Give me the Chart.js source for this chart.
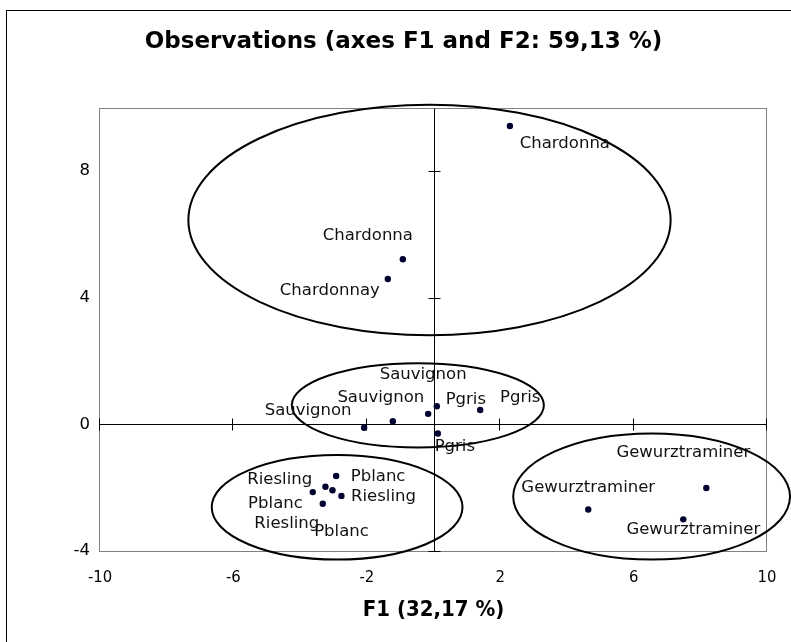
<!DOCTYPE html>
<html>
<head>
<meta charset="utf-8">
<script src="https://cdn.jsdelivr.net/npm/chart.js@4.4.1/dist/chart.umd.min.js"></script>
<style>
  html, body { margin: 0; padding: 0; background: #fff; }
  canvas { display: block; }
</style>
</head>
<body>
<canvas id="chart" width="791" height="642"></canvas>
<script>
// Observations on the first two factors
const names = [
  'Chardonna', 'Chardonnay', 'Chardonna',
  'Sauvignon', 'Sauvignon', 'Sauvignon',
  'Pgris', 'Pgris', 'Pgris',
  'Pblanc', 'Riesling', 'Riesling', 'Pblanc', 'Riesling', 'Pblanc',
  'Gewurztraminer', 'Gewurztraminer', 'Gewurztraminer'
];
const f1 = [
  -0.92, -1.37, 2.29,
  -2.08, -1.22, -0.16,
  0.10, 1.40, 0.13,
  -2.92, -2.76, -3.62, -3.24, -3.32, -3.03,
  8.18, 4.64, 7.49
];
const f2 = [
  5.21, 4.59, 9.42,
  -0.11, 0.10, 0.33,
  0.57, 0.45, -0.29,
  -1.63, -2.26, -2.14, -1.97, -2.51, -2.08,
  -2.01, -2.69, -3.00
];

// Tick values
const xTicks = [-10, -6, -2, 2, 6, 10];
const yTicks = [-4, 0, 4, 8];

// Group ellipses (centre and half-axes in factor units)
const ellipseCx = [-0.12, -0.47, -2.89, 6.54];
const ellipseCy = [6.45, 0.60, -2.62, -2.28];
const ellipseRx = [7.23, 3.78, 3.76, 4.15];
const ellipseRy = [3.64, 1.33, 1.65, 1.99];

// Label placement around each point, in pixels (text centre relative to the point)
const labelOffsets = [
  [-35, -24], [-58, 12], [55, 18],
  [-56, -17], [-12, -23], [-5, -39],
  [29, -7], [40, -12], [17, 13],
  [42, 1], [42, 1], [-33, -12], [-50, 17], [-36, 20], [9, 42],
  [-23, -35], [0, -22], [10, 10]
];

const FONT = "'DejaVu Sans', Verdana, sans-serif";
const FONT_COND = "'DejaVu Sans Condensed', 'DejaVu Sans', sans-serif";

const points = f1.map((v, i) => ({ x: v, y: f2[i] }));

const decor = {
  id: 'decor',
  beforeDraw(chart) {
    const ctx = chart.ctx;
    ctx.save();
    ctx.fillStyle = '#fff';
    ctx.fillRect(0, 0, chart.width, chart.height);
    ctx.strokeStyle = '#000';
    ctx.lineWidth = 1;
    ctx.strokeRect(6.5, 10.5, chart.width + 20, chart.height + 20);
    ctx.restore();
  },
  beforeDatasetsDraw(chart) {
    const { ctx, chartArea: a, scales: { x, y } } = chart;
    ctx.save();
    // plot frame
    ctx.strokeStyle = '#808080';
    ctx.lineWidth = 1;
    const L = Math.round(a.left) - 0.5, T = Math.round(a.top) + 0.5;
    const R = Math.round(a.right) - 0.5, B = Math.round(a.bottom) + 0.5;
    ctx.strokeRect(L, T, R - L, B - T);

    // axes through the origin
    const x0 = Math.round(x.getPixelForValue(0)) + 0.5;
    const y0 = Math.round(y.getPixelForValue(0)) + 0.5;
    ctx.strokeStyle = '#000';
    ctx.beginPath();
    ctx.moveTo(L, y0); ctx.lineTo(R, y0);
    ctx.moveTo(x0, T); ctx.lineTo(x0, B);
    // cross tick marks
    xTicks.forEach(v => {
      const px = Math.round(x.getPixelForValue(v)) - 0.5;
      ctx.moveTo(px, y0 - 6); ctx.lineTo(px, y0 + 6);
    });
    yTicks.forEach(v => {
      const py = Math.round(y.getPixelForValue(v)) + 0.5;
      ctx.moveTo(x0 - 6, py); ctx.lineTo(x0 + 6, py);
    });
    ctx.stroke();

    // group ellipses
    ctx.lineWidth = 2;
    ellipseCx.forEach((cx, i) => {
      const px = x.getPixelForValue(cx);
      const py = y.getPixelForValue(ellipseCy[i]);
      const rx = Math.abs(x.getPixelForValue(cx + ellipseRx[i]) - px);
      const ry = Math.abs(y.getPixelForValue(ellipseCy[i] + ellipseRy[i]) - py);
      ctx.beginPath();
      ctx.ellipse(px, py, rx, ry, 0, 0, Math.PI * 2);
      ctx.stroke();
    });
    ctx.restore();
  },
  afterDatasetsDraw(chart) {
    const { ctx } = chart;
    const meta = chart.getDatasetMeta(0);
    ctx.save();
    ctx.font = '16.5px ' + FONT;
    ctx.fillStyle = '#111';
    ctx.textAlign = 'center';
    ctx.textBaseline = 'middle';
    meta.data.forEach((el, i) => {
      const [dx, dy] = labelOffsets[i];
      ctx.fillText(names[i], el.x + dx, el.y + dy);
    });
    ctx.restore();
  }
};

new Chart(document.getElementById('chart'), {
  type: 'scatter',
  data: {
    datasets: [{
      data: points,
      backgroundColor: '#00002e',
      borderWidth: 0,
      pointRadius: 3.2,
      pointHoverRadius: 3.2
    }]
  },
  options: {
    responsive: false,
    animation: false,
    devicePixelRatio: 1,
    layout: { padding: { left: 40, right: 24, top: 0, bottom: 0 } },
    plugins: {
      legend: { display: false },
      tooltip: { enabled: false },
      title: {
        display: true,
        text: 'Observations (axes F1 and F2: 59,13 %)',
        color: '#000',
        font: { family: FONT, size: 23, weight: 'bold' },
        padding: { top: 28, bottom: 52 }
      }
    },
    scales: {
      x: {
        type: 'linear',
        min: -10,
        max: 10,
        grid: { display: false, drawTicks: false },
        border: { display: false },
        afterBuildTicks: s => { s.ticks = xTicks.map(v => ({ value: v })); },
        afterFit: s => { s.height = 91; },
        ticks: {
          color: '#000',
          padding: 4,
          maxRotation: 0,
          font: { family: FONT_COND, size: 16.5, lineHeight: 2.8 }
        },
        title: {
          display: true,
          text: 'F1 (32,17 %)',
          color: '#000',
          font: { family: FONT_COND, size: 22, weight: 'bold' },
          padding: { top: 0, bottom: 19 }
        }
      },
      y: {
        type: 'linear',
        min: -4,
        max: 10,
        grid: { display: false, drawTicks: false },
        border: { display: false },
        afterBuildTicks: s => { s.ticks = yTicks.map(v => ({ value: v })); },
        afterFit: s => { s.width = 60; },
        ticks: {
          color: '#000',
          padding: 10,
          font: { family: FONT, size: 16.5 }
        }
      }
    }
  },
  plugins: [decor]
});
</script>
</body>
</html>
